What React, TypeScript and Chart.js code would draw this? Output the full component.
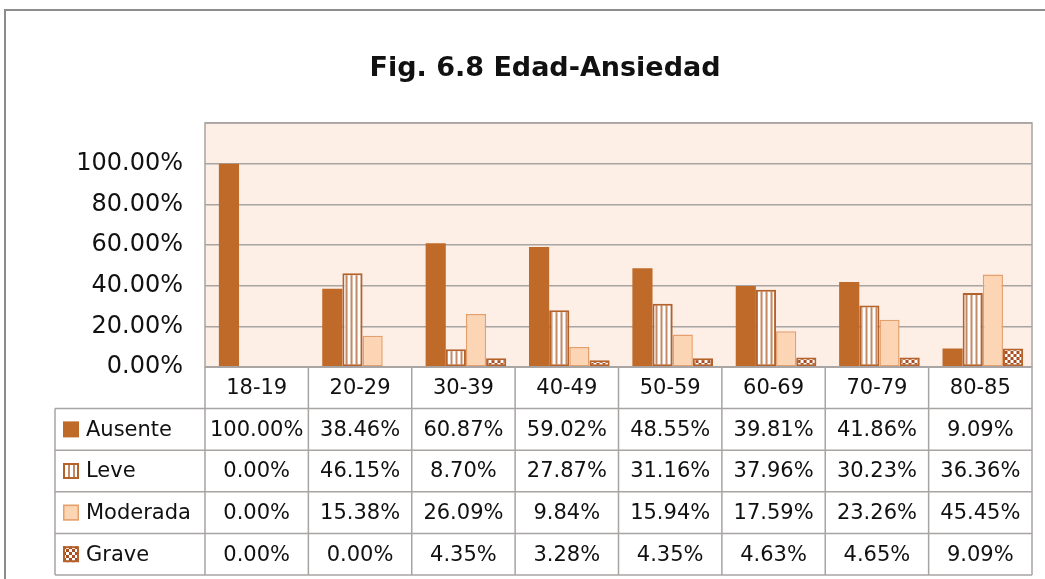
import React, { useEffect, useRef } from "react";
import { Chart, registerables } from "chart.js";
Chart.register(...registerables);

const categories = ["18-19", "20-29", "30-39", "40-49", "50-59", "60-69", "70-79", "80-85"];
const seriesNames = ["Ausente", "Leve", "Moderada", "Grave"];
const ausente = [100, 38.46, 60.87, 59.02, 48.55, 39.81, 41.86, 9.09];
const leve = [0, 46.15, 8.7, 27.87, 31.16, 37.96, 30.23, 36.36];
const moderada = [0, 15.38, 26.09, 9.84, 15.94, 17.59, 23.26, 45.45];
const grave = [0, 0, 4.35, 3.28, 4.35, 4.63, 4.65, 9.09];
const yTickValues = [0, 20, 40, 60, 80, 100];
const titleText = "Fig. 6.8 Edad-Ansiedad";

const BROWN = "#C06A2A";
const BROWN_DARK = "#B4612A";
const PEACH = "#FCD5B5";
const PEACH_BORDER = "#E4A06C";
const PLOT_BG = "#FDEEE6";
const GRID = "#A8A4A2";
const TEXT = "#111111";
const FONT = "DejaVu Sans";

function makeStripe(ctx: CanvasRenderingContext2D) {
  const c = document.createElement("canvas");
  c.width = 5;
  c.height = 4;
  const g = c.getContext("2d")!;
  g.fillStyle = "#ffffff";
  g.fillRect(0, 0, 5, 4);
  g.fillStyle = "#C48A66";
  g.fillRect(3, 0, 2, 4);
  return ctx.createPattern(c, "repeat")!;
}

function makeChecker(ctx: CanvasRenderingContext2D) {
  const c = document.createElement("canvas");
  c.width = 6;
  c.height = 6;
  const g = c.getContext("2d")!;
  g.fillStyle = "#A84E22";
  g.fillRect(0, 0, 6, 6);
  g.fillStyle = "#ffffff";
  g.fillRect(0, 0, 3, 3);
  g.fillRect(3, 3, 3, 3);
  return ctx.createPattern(c, "repeat")!;
}

export default function App() {
  const ref = useRef<HTMLCanvasElement | null>(null);

  useEffect(() => {
    const canvas = ref.current!;
    const ctx = canvas.getContext("2d")!;
    const stripe = makeStripe(ctx);
    const checker = makeChecker(ctx);
    const seriesData = [ausente, leve, moderada, grave];

    const bgPlugin = {
      id: "bgPlugin",
      beforeDraw(chart: any) {
        const { ctx, chartArea: a } = chart;
        ctx.save();
        ctx.fillStyle = "#ffffff";
        ctx.fillRect(0, 0, chart.width, chart.height);
        ctx.fillStyle = PLOT_BG;
        ctx.fillRect(a.left, a.top, a.right - a.left, a.bottom - a.top);
        ctx.restore();
      },
      beforeDatasetsDraw(chart: any) {
        chart.ctx.save();
        chart.ctx.translate(2.5, 0);
      },
      afterDatasetsDraw(chart: any) {
        chart.ctx.restore();
      },
    };

    const tablePlugin = {
      id: "tablePlugin",
      afterDraw(chart: any) {
        const { ctx, chartArea: a } = chart;
        ctx.save();
        // outer frame
        ctx.strokeStyle = "#8C8C8C";
        ctx.lineWidth = 2;
        ctx.beginPath();
        ctx.moveTo(5, chart.height);
        ctx.lineTo(5, 10);
        ctx.lineTo(chart.width, 10);
        ctx.stroke();

        // title
        ctx.fillStyle = TEXT;
        ctx.font = `bold 27px '${FONT}'`;
        ctx.textAlign = "center";
        ctx.textBaseline = "middle";
        ctx.fillText(titleText, 545, 69);

        // plot border
        ctx.strokeStyle = GRID;
        ctx.lineWidth = 1.5;
        ctx.strokeRect(a.left, a.top, a.right - a.left, a.bottom - a.top);

        const n = categories.length;
        const colW = (a.right - a.left) / n;
        const rowH = 41.6;
        const top = a.bottom;
        const tableLeft = 55;
        const rows = seriesNames.length + 1;

        ctx.beginPath();
        ctx.moveTo(a.left, top);
        ctx.lineTo(a.right, top);
        for (let r = 1; r <= rows; r++) {
          const y = top + r * rowH;
          ctx.moveTo(tableLeft, y);
          ctx.lineTo(a.right, y);
        }
        ctx.moveTo(tableLeft, top + rowH);
        ctx.lineTo(tableLeft, top + rows * rowH);
        for (let k = 0; k <= n; k++) {
          const x = a.left + k * colW;
          ctx.moveTo(x, top);
          ctx.lineTo(x, top + rows * rowH);
        }
        ctx.stroke();

        ctx.fillStyle = TEXT;
        ctx.font = `21px '${FONT}'`;
        ctx.textAlign = "center";
        ctx.textBaseline = "middle";
        categories.forEach((c, i) => {
          ctx.fillText(c, a.left + (i + 0.5) * colW, top + rowH / 2 + 1);
        });

        seriesNames.forEach((name, s) => {
          const cy = top + (s + 1.5) * rowH + 1;
          seriesData[s].forEach((v, i) => {
            ctx.textAlign = "center";
            ctx.fillText(v.toFixed(2) + "%", a.left + (i + 0.5) * colW, cy);
          });
          const kx = 63, ks = 16, ky = cy - ks / 2 - 1;
          if (s === 0) {
            ctx.fillStyle = BROWN;
            ctx.fillRect(kx, ky, ks, ks);
          } else if (s === 1) {
            ctx.fillStyle = stripe;
            ctx.fillRect(kx, ky, ks, ks);
            ctx.strokeStyle = BROWN_DARK;
            ctx.lineWidth = 2;
            ctx.strokeRect(kx + 1, ky + 1, ks - 2, ks - 2);
          } else if (s === 2) {
            ctx.fillStyle = PEACH;
            ctx.fillRect(kx, ky, ks, ks);
            ctx.strokeStyle = PEACH_BORDER;
            ctx.lineWidth = 1.5;
            ctx.strokeRect(kx + 0.75, ky + 0.75, ks - 1.5, ks - 1.5);
          } else {
            ctx.fillStyle = checker;
            ctx.fillRect(kx, ky, ks, ks);
            ctx.strokeStyle = BROWN_DARK;
            ctx.lineWidth = 2;
            ctx.strokeRect(kx + 1, ky + 1, ks - 2, ks - 2);
          }
          ctx.fillStyle = TEXT;
          ctx.textAlign = "left";
          ctx.fillText(name, 86, cy);
        });
        ctx.restore();
      },
    };

    const bw = (w: number) => (c: any) => (c.raw === 0 ? 0 : w);

    const chart = new Chart(canvas, {
      type: "bar",
      data: {
        labels: categories,
        datasets: [
          {
            label: seriesNames[0],
            data: ausente,
            backgroundColor: BROWN,
            borderColor: BROWN,
            borderWidth: 0,
          },
          {
            label: seriesNames[1],
            data: leve,
            backgroundColor: stripe,
            borderColor: BROWN_DARK,
            borderWidth: bw(2) as any,
            borderSkipped: false,
          },
          {
            label: seriesNames[2],
            data: moderada,
            backgroundColor: PEACH,
            borderColor: PEACH_BORDER,
            borderWidth: bw(1.5) as any,
            borderSkipped: false,
          },
          {
            label: seriesNames[3],
            data: grave,
            backgroundColor: checker,
            borderColor: BROWN_DARK,
            borderWidth: bw(2) as any,
            borderSkipped: false,
          },
        ],
      },
      options: {
        responsive: false,
        animation: false,
        devicePixelRatio: 1,
        layout: { padding: { left: 0, top: 123, right: 13, bottom: 212 } },
        datasets: { bar: { categoryPercentage: 0.78, barPercentage: 1 } },
        plugins: {
          legend: { display: false },
          title: { display: false },
          tooltip: { enabled: false },
        },
        scales: {
          x: { display: false },
          y: {
            min: 0,
            max: 120,
            afterFit(scale: any) {
              scale.width = 205;
            },
            afterBuildTicks(scale: any) {
              scale.ticks = [...yTickValues, 120].map((v) => ({ value: v }));
            },
            border: { display: false },
            grid: { color: GRID, lineWidth: 1.5, drawTicks: false },
            ticks: {
              padding: 22,
              color: TEXT,
              font: { family: FONT, size: 24 },
              callback: (v: any) => (yTickValues.includes(Number(v)) ? Number(v).toFixed(2) + "%" : ""),
            },
          },
        },
      },
      plugins: [bgPlugin, tablePlugin],
    });
    return () => chart.destroy();
  }, []);

  return (
    <div style={{ position: "absolute", left: 0, top: 0, width: 1045, height: 579, background: "#fff" }}>
      <canvas ref={ref} width={1045} height={579} style={{ display: "block" }} />
    </div>
  );
}
